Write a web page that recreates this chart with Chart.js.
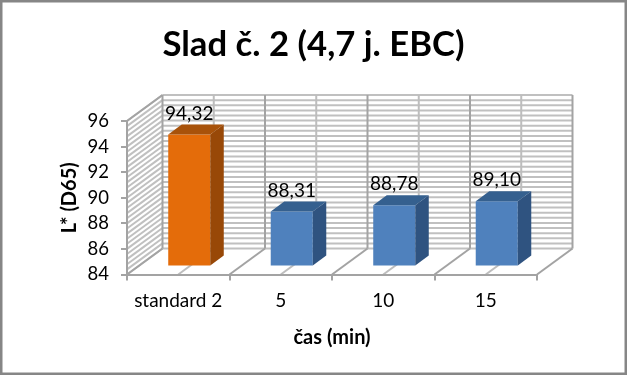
<!DOCTYPE html>
<html>
  <head>
    <title>Slad c. 2</title>
    <meta charset="utf-8" />
    <script src="https://cdn.jsdelivr.net/npm/chart.js"></script>
    <style>
      body { margin: 0; background: #fff; }
      canvas { display: block; }
    </style>
  </head>
  <body>
    <canvas id="sladChart" width="627" height="375"></canvas>
    <script type="text/javascript">
        var categories = ['standard 2', '5', '10', '15']
        var values = [94.32, 88.31, 88.78, 89.10]
        var yMin = 84
        var yMax = 96
        var yStep = 2
        var yMinorStep = 0.4

        var frontColors = ['#E46C0A', '#4F81BD', '#4F81BD', '#4F81BD']
        var sideColors = ['#984807', '#2F5380', '#2F5380', '#2F5380']
        var topColors = ['#A8520A', '#35608F', '#35608F', '#35608F']

        var fontName = 'Lato, sans-serif'
        var wallDx = 35.5
        var wallDy = -26
        var barShiftX = 11
        var barShiftY = -8
        var barDx = 13.5
        var barDy = -10

        function line(ctx, x1, y1, x2, y2) {
            ctx.beginPath()
            ctx.moveTo(x1, y1)
            ctx.lineTo(x2, y2)
            ctx.stroke()
        }

        var fake3d = {
            id: 'fake3d',
            beforeDraw: function(chart) {
                var ctx = chart.ctx
                var area = chart.chartArea
                var y = chart.scales.y

                ctx.save()
                ctx.fillStyle = '#fff'
                ctx.fillRect(0, 0, chart.width, chart.height)
                ctx.strokeStyle = '#868686'
                ctx.lineWidth = 3
                ctx.strokeRect(1, 1, chart.width - 2, chart.height - 2)

                // minor lines on the back wall and the left wall
                ctx.lineWidth = 2
                ctx.strokeStyle = '#c0c0c0'
                var steps = Math.round((yMax - yMin) / yMinorStep)
                for (var i = 0; i <= steps; i++) {
                    var py = y.getPixelForValue(yMin + i * yMinorStep)
                    line(ctx, area.left, py, area.left + wallDx, py + wallDy)
                    line(ctx, area.left + wallDx, py + wallDy, area.right + wallDx, py + wallDy)
                }

                // verticals and floor lines, every half category
                var half = (area.right - area.left) / (categories.length * 2)
                for (var j = 0; j <= categories.length * 2; j++) {
                    var px = area.left + j * half
                    ctx.lineWidth = 2
                    ctx.strokeStyle = j % 2 == 0 ? '#a3a3a3' : '#bdbdbd'
                    line(ctx, px + wallDx, area.top + wallDy, px + wallDx, area.bottom + wallDy)
                    line(ctx, px, area.bottom, px + wallDx, area.bottom + wallDy)
                }
                ctx.lineWidth = 2
                ctx.strokeStyle = '#a3a3a3'
                line(ctx, area.left, area.top, area.left, area.bottom)
                line(ctx, area.left, area.top, area.left + wallDx, area.top + wallDy)
                ctx.restore()
            },
            beforeDatasetsDraw: function(chart) {
                chart.ctx.save()
                chart.ctx.translate(barShiftX, barShiftY)
            },
            afterDatasetsDraw: function(chart) {
                var ctx = chart.ctx
                var bars = chart.getDatasetMeta(0).data
                bars.forEach(function(bar, i) {
                    var l = bar.x - bar.width / 2
                    var r = bar.x + bar.width / 2
                    ctx.fillStyle = sideColors[i]
                    ctx.beginPath()
                    ctx.moveTo(r, bar.y)
                    ctx.lineTo(r + barDx, bar.y + barDy)
                    ctx.lineTo(r + barDx, bar.base + barDy)
                    ctx.lineTo(r, bar.base)
                    ctx.closePath()
                    ctx.fill()
                    ctx.fillStyle = topColors[i]
                    ctx.beginPath()
                    ctx.moveTo(l, bar.y)
                    ctx.lineTo(l + barDx, bar.y + barDy)
                    ctx.lineTo(r + barDx, bar.y + barDy)
                    ctx.lineTo(r, bar.y)
                    ctx.closePath()
                    ctx.fill()
                })
                ctx.restore()

                ctx.save()
                ctx.fillStyle = '#000'
                ctx.font = '19px ' + fontName
                ctx.textAlign = 'center'
                ctx.textBaseline = 'middle'
                bars.forEach(function(bar, i) {
                    var text = values[i].toFixed(2).replace('.', ',')
                    ctx.fillText(text, bar.x + barShiftX, bar.y + barShiftY - 21)
                })
                ctx.restore()
            }
        }

        var axisColor = '#a3a3a3'

        new Chart(document.getElementById('sladChart').getContext('2d'), {
            type: 'bar',
            data: {
                labels: categories,
                datasets: [{
                    data: values,
                    base: yMin,
                    backgroundColor: frontColors,
                    categoryPercentage: 1,
                    barPercentage: 0.41,
                    clip: false
                }]
            },
            plugins: [fake3d],
            options: {
                responsive: false,
                animation: false,
                events: [],
                layout: {
                    padding: { left: 40, right: 40, top: 8, bottom: 6 }
                },
                plugins: {
                    legend: { display: false },
                    tooltip: { enabled: false },
                    title: {
                        display: true,
                        text: 'Slad č. 2 (4,7 j. EBC)',
                        color: '#000',
                        font: { family: fontName, size: 34.7, weight: 'bold', lineHeight: 1.2 },
                        padding: { top: 16, bottom: 55.4 }
                    }
                },
                scales: {
                    x: {
                        afterFit: function(scale) { scale.height = 94.5 },
                        border: { color: axisColor, width: 2 },
                        grid: { drawOnChartArea: false, drawTicks: true, tickLength: 6, color: axisColor, lineWidth: 2, offset: true },
                        ticks: { color: '#000', padding: 9, maxRotation: 0, font: { family: fontName, size: 19 } },
                        title: {
                            display: true,
                            text: 'čas (min)',
                            color: '#000',
                            padding: { top: 12, bottom: 19 },
                            font: { family: fontName, size: 20, weight: 'bold' }
                        }
                    },
                    y: {
                        min: yMin,
                        max: yMax,
                        afterFit: function(scale) { scale.width = 87 },
                        border: { color: axisColor, width: 2 },
                        grid: { drawOnChartArea: false, drawTicks: true, tickLength: 6, color: axisColor, lineWidth: 2 },
                        ticks: {
                            stepSize: yStep,
                            color: '#000',
                            padding: 12,
                            font: { family: fontName, size: 18.5 }
                        },
                        title: {
                            display: true,
                            text: 'L* (D65)',
                            color: '#000',
                            padding: { top: 18, bottom: 4 },
                            font: { family: fontName, size: 20, weight: 'bold' }
                        }
                    },
                    // empty axis, only keeps the plot left of the 3d depth
                    yRight: {
                        position: 'right',
                        afterFit: function(scale) { scale.width = 50 },
                        border: { display: false },
                        grid: { display: false },
                        ticks: { display: false }
                    }
                }
            }
        })
    </script>
  </body>
</html>
